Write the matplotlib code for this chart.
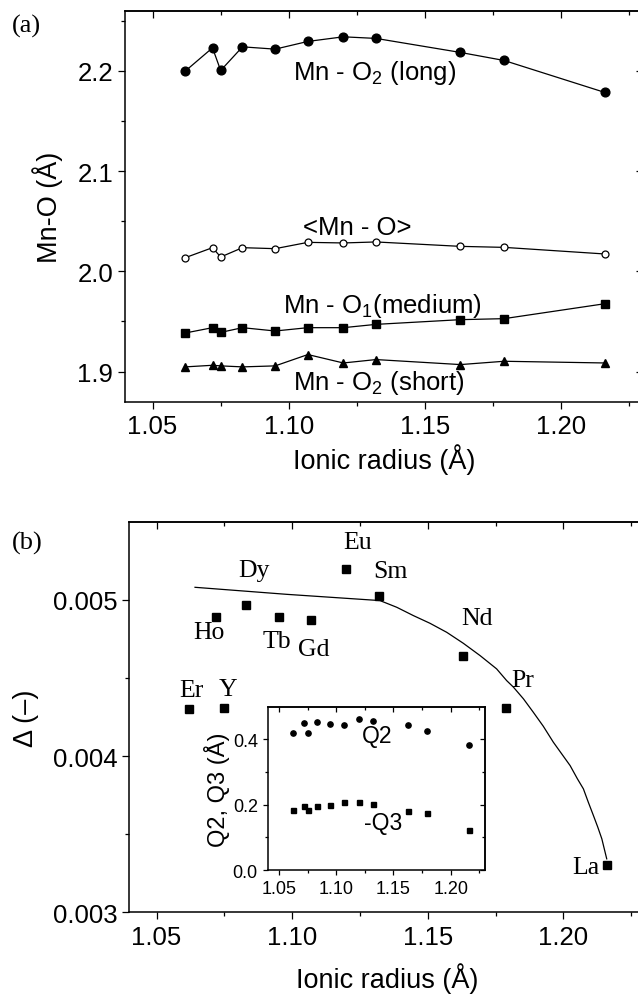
import matplotlib

matplotlib.use("Agg")
import matplotlib.pyplot as plt
from matplotlib.ticker import FixedLocator

plt.rcParams["font.family"] = ["Liberation Sans", "DejaVu Sans"]
plt.rcParams["mathtext.fontset"] = "custom"
plt.rcParams["mathtext.rm"] = "Liberation Sans"
plt.rcParams["mathtext.it"] = "Liberation Sans:italic"
plt.rcParams["axes.linewidth"] = 1.1

# ---- data
# ionic radius (A): Er, Ho, Y, Dy, Tb, Gd, Eu, Sm, Nd, Pr, La
radius = [1.062, 1.072, 1.075, 1.083, 1.095, 1.107, 1.120, 1.132, 1.163, 1.179, 1.216]
elements = ["Er", "Ho", "Y", "Dy", "Tb", "Gd", "Eu", "Sm", "Nd", "Pr", "La"]

mno2_long = [2.1997, 2.2229, 2.2003, 2.2239, 2.2216, 2.2293, 2.2339, 2.2323, 2.2183, 2.2103, 2.1784]
mno_mean = [2.0136, 2.0236, 2.0143, 2.0236, 2.0226, 2.0289, 2.0283, 2.0293, 2.0249, 2.0239, 2.0173]
mno1_medium = [1.9385, 1.9438, 1.9391, 1.9438, 1.9405, 1.9438, 1.9438, 1.9471, 1.9518, 1.9528, 1.9677]
mno2_short = [1.9047, 1.9063, 1.9057, 1.9047, 1.9057, 1.9170, 1.9086, 1.9120, 1.9070, 1.9103, 1.9086]

delta = [0.004301, 0.004893, 0.004305, 0.004966, 0.004891, 0.004872,
         0.005196, 0.005026, 0.004638, 0.004305, 0.003305]

# guide curve in panel (b)
curve_x = [1.0642, 1.0980, 1.1324, 1.1386, 1.1447, 1.1508, 1.1570, 1.1631, 1.1693,
           1.1754, 1.1791, 1.1816, 1.1853, 1.1889, 1.1926, 1.1963, 1.1994, 1.2025,
           1.2052, 1.2074, 1.2092, 1.2111, 1.2127, 1.2142, 1.2151, 1.2160]
curve_y = [0.005080, 0.005035, 0.004995, 0.004952, 0.004899, 0.004850, 0.004792,
           0.004722, 0.004643, 0.004558, 0.004483, 0.004441, 0.004366, 0.004281,
           0.004191, 0.004089, 0.004014, 0.003939, 0.003854, 0.003790, 0.003705,
           0.003619, 0.003545, 0.003470, 0.003406, 0.003342]

q2 = [0.4183, 0.4499, 0.4183, 0.4540, 0.4468, 0.4438, 0.4631, 0.4550, 0.4427, 0.4254, 0.3827]
neg_q3 = [0.1842, 0.1954, 0.1842, 0.1944, 0.1995, 0.2087, 0.2066, 0.2015, 0.1791, 0.1730, 0.1221]

# label offsets (points) for the element names in panel (b)
label_offsets = [(2, 14), (-5, -11), (2.5, 14), (6, 25), (-1.5, -17.5), (2, -21),
                 (8, 19.5), (8.5, 17.5), (10, 27.5), (12, 20.5), (-15, -2)]

X_MAJOR = [1.05, 1.10, 1.15, 1.20]
X_MINOR = [1.025, 1.075, 1.125, 1.175, 1.225]

fig = plt.figure(figsize=(6.38, 9.95), dpi=100)
ax_a = fig.add_axes([0.1964, 0.5953, 0.8115, 0.3930])
ax_b = fig.add_axes([0.2028, 0.0821, 0.8077, 0.3926])
ax_in = fig.add_axes([0.4193, 0.1246, 0.3409, 0.1643])


def style(ax, ymaj, ymin, fs, maj=5.3, mnr=3.0):
    ax.xaxis.set_major_locator(FixedLocator(X_MAJOR))
    ax.xaxis.set_minor_locator(FixedLocator(X_MINOR))
    ax.yaxis.set_major_locator(FixedLocator(ymaj))
    ax.yaxis.set_minor_locator(FixedLocator(ymin))
    ax.tick_params(which="both", direction="out", top=False, right=False,
                   labelsize=fs, width=0.9)
    ax.tick_params(which="major", length=maj)
    ax.tick_params(which="minor", length=mnr)
    # inward ticks on the opposite sides
    top = ax.secondary_xaxis("top")
    top.xaxis.set_major_locator(FixedLocator(X_MAJOR))
    top.xaxis.set_minor_locator(FixedLocator(X_MINOR))
    top.tick_params(which="both", direction="in", labeltop=False, width=0.9)
    top.tick_params(which="major", length=maj)
    top.tick_params(which="minor", length=mnr)
    right = ax.secondary_yaxis("right")
    right.yaxis.set_major_locator(FixedLocator(ymaj))
    right.yaxis.set_minor_locator(FixedLocator(ymin))
    right.tick_params(which="both", direction="in", labelright=False, width=0.9)
    right.tick_params(which="major", length=maj)
    right.tick_params(which="minor", length=mnr)


# ------------------------------------------------------------- (a)
ax_a.plot(radius, mno2_long, "-o", color="black", lw=0.9, ms=6.3)
ax_a.plot(radius, mno_mean, "-o", color="black", lw=0.9, ms=5.0, mfc="white", mew=0.9)
ax_a.plot(radius, mno1_medium, "-s", color="black", lw=0.9, ms=5.2)
ax_a.plot(radius, mno2_short, "-^", color="black", lw=0.9, ms=6.3)
ax_a.set_xlim(1.04, 1.23)
ax_a.set_ylim(1.87, 2.26)
style(ax_a, [1.9, 2.0, 2.1, 2.2], [1.95, 2.05, 2.15, 2.25], 18.5)
ax_a.set_xticklabels(["1.05", "1.10", "1.15", "1.20"])
ax_a.set_yticklabels(["1.9", "2.0", "2.1", "2.2"])
ax_a.set_xlabel("Ionic radius (Å)", fontsize=19.5, labelpad=4)
ax_a.set_ylabel("Mn-O (Å)", fontsize=19.5, labelpad=10)
ax_a.text(1.1015, 2.1923, "Mn - O$_2$ (long)", fontsize=18.5, va="baseline")
ax_a.text(1.1052, 2.0376, "<Mn - O>", fontsize=18.5, va="baseline")
ax_a.text(1.0978, 1.9595, "Mn - O$_1$(medium)", fontsize=18.5, va="baseline")
ax_a.text(1.1015, 1.8823, "Mn - O$_2$ (short)", fontsize=18.5, va="baseline")
fig.text(0.019, 0.985, "(a)", family="Liberation Serif", fontsize=19, va="top")

# ------------------------------------------------------------- (b)
ax_b.plot(curve_x, curve_y, "-", color="black", lw=0.9)
ax_b.plot(radius, delta, "s", color="black", ms=6.0)
for x, y, name, off in zip(radius, delta, elements, label_offsets):
    ax_b.annotate(name, (x, y), xytext=off, textcoords="offset points",
                  ha="center", va="center", family="Liberation Serif", fontsize=18.5)
ax_b.set_xlim(1.04, 1.23)
ax_b.set_ylim(0.003, 0.0055)
style(ax_b, [0.003, 0.004, 0.005], [0.0035, 0.0045], 18.5)
ax_b.set_xticklabels(["1.05", "1.10", "1.15", "1.20"])
ax_b.set_yticklabels(["0.003", "0.004", "0.005"])
ax_b.set_xlabel("Ionic radius (Å)", fontsize=19.5, labelpad=10)
ax_b.set_ylabel("Δ (–)", fontsize=19.5, labelpad=10)
fig.text(0.019, 0.465, "(b)", family="Liberation Serif", fontsize=19, va="top")

# ------------------------------------------------------------- inset
ax_in.plot(radius, q2, "o", color="black", ms=3.8)
ax_in.plot(radius, neg_q3, "s", color="black", ms=3.6)
ax_in.set_xlim(1.04, 1.23)
ax_in.set_ylim(0.0, 0.5)
style(ax_in, [0.0, 0.2, 0.4], [0.1, 0.3], 13, maj=3.5, mnr=2.0)
ax_in.set_xticklabels(["1.05", "1.10", "1.15", "1.20"])
ax_in.set_yticklabels(["0.0", "0.2", "0.4"])
ax_in.set_ylabel("Q2, Q3 (Å)", fontsize=17, labelpad=2)
ax_in.text(1.1359, 0.4107, "Q2", fontsize=16.5, ha="center", va="center")
ax_in.text(1.1414, 0.1459, "-Q3", fontsize=16.5, ha="center", va="center")

fig.savefig("out.png", dpi=100)
